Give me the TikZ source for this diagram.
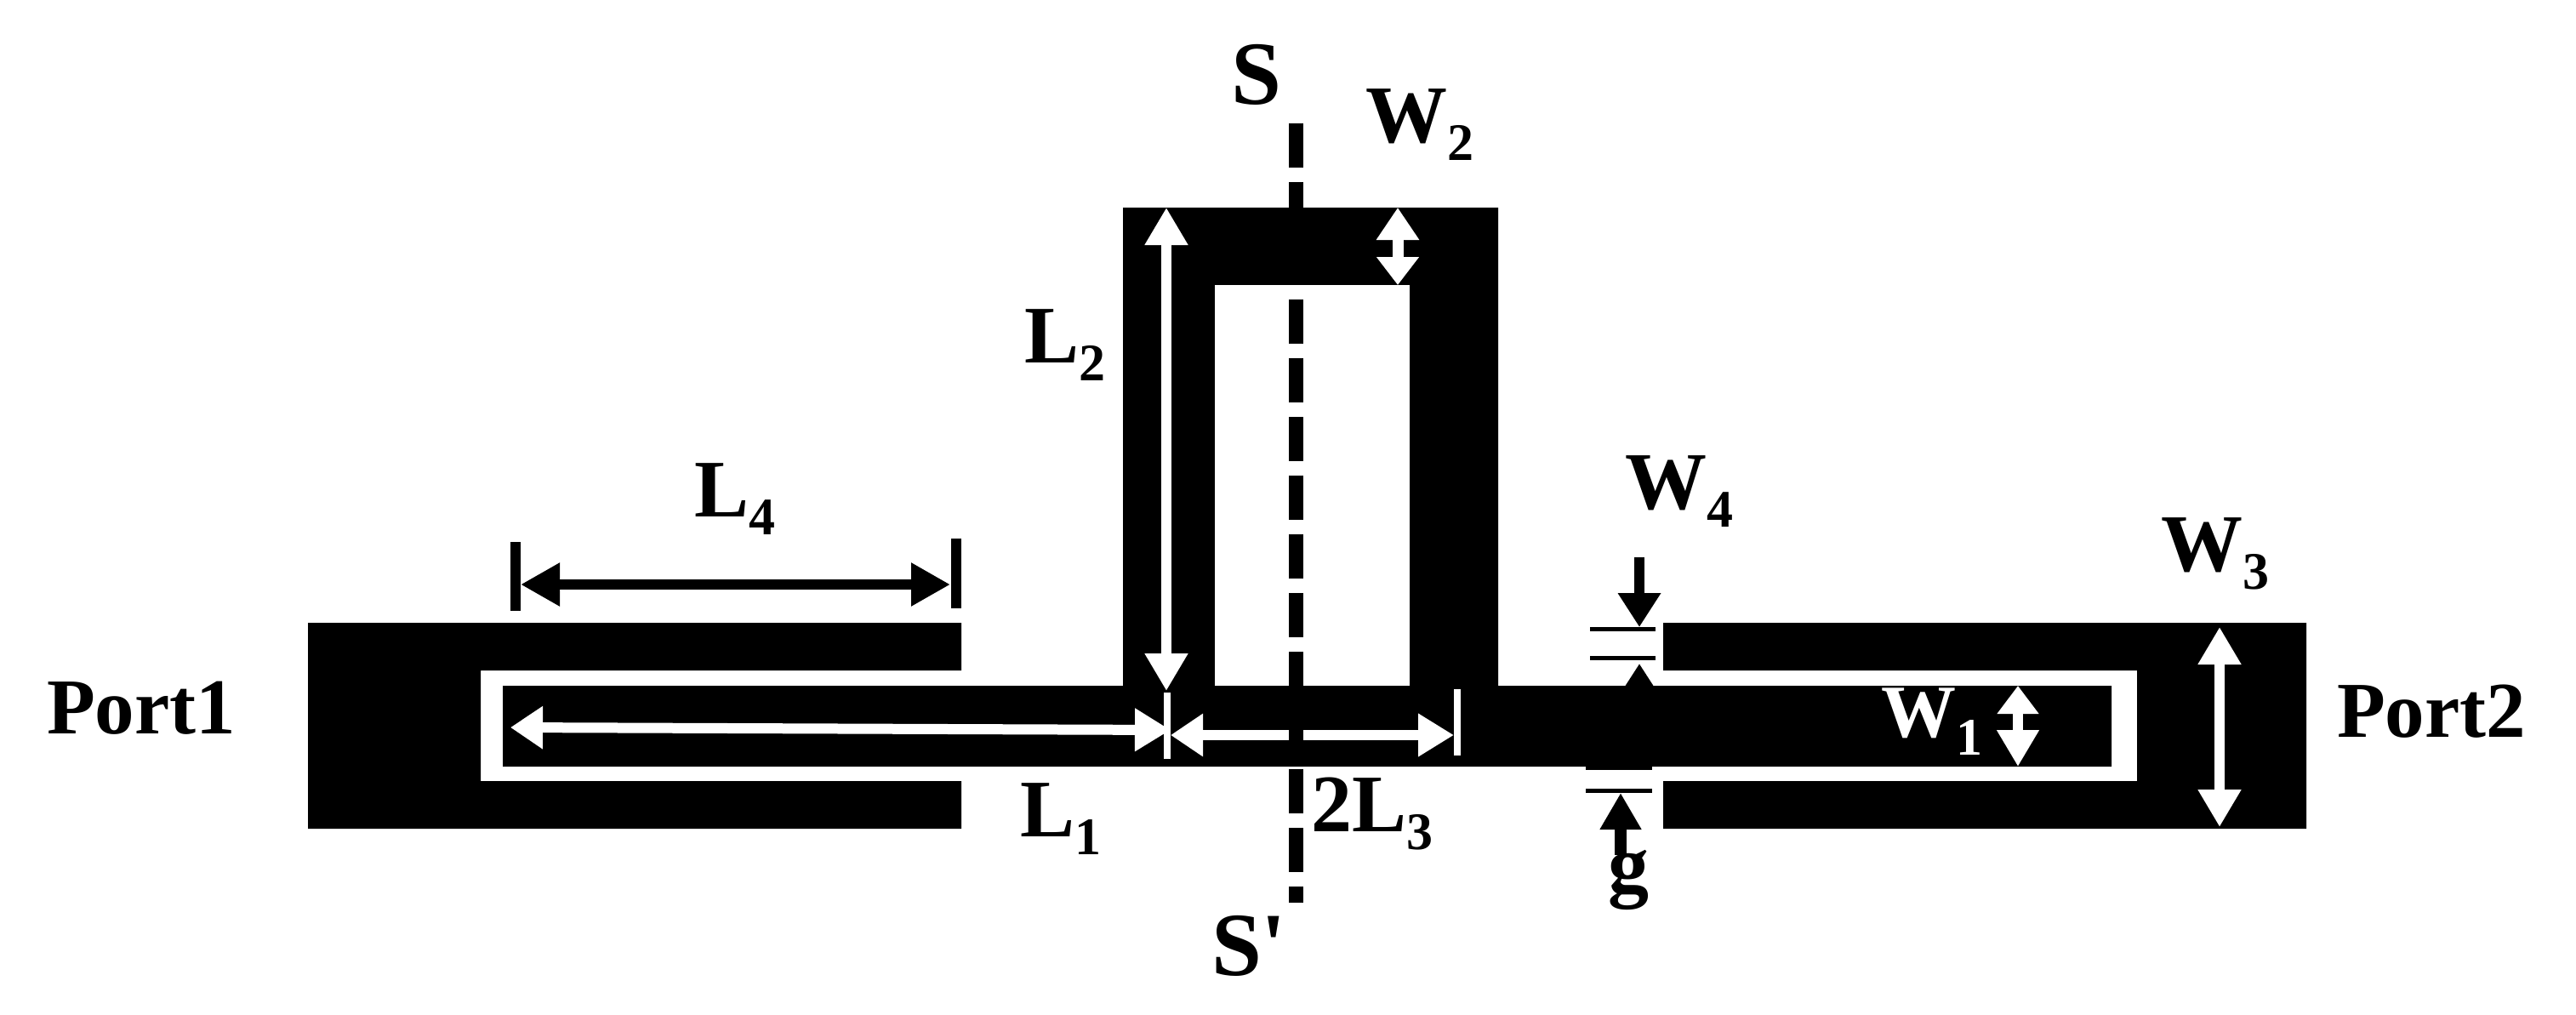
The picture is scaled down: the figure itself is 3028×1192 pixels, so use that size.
\documentclass[tikz,border=0pt]{standalone}
\usepackage{fontspec}
\setmainfont{Liberation Serif}
\newfontfamily\rawserif{Liberation Serif}
\usetikzlibrary{arrows.meta}
\newcommand{\subdig}[1]{\raisebox{-21pt}{\fontsize{62}{62}\bfseries\selectfont #1}}
\tikzset{
  x=1pt,y=-1pt,
  metal/.style={fill=black,draw=none},
  lbl/.style={anchor=base west,inner sep=0pt,outer sep=0pt,font=\fontsize{96}{96}\bfseries\selectfont,text=black},
  lblbig/.style={lbl,font=\fontsize{106}{106}\bfseries\selectfont},
  lblport/.style={lbl,font=\fontsize{93}{93}\bfseries\selectfont},
  lblsmall/.style={lbl,font=\fontsize{88}{88}\bfseries\selectfont},
  dimk/.style={line width=12pt,black,{Triangle[length=46pt,width=48pt]}-{Triangle[length=46pt,width=48pt]}},
  dimw/.style={line width=12pt,white,{Triangle[length=44pt,width=48pt]}-{Triangle[length=44pt,width=48pt]}},
  dimwshort/.style={line width=12pt,white,{Triangle[length=38pt,width=48pt]}-{Triangle[length=42pt,width=48pt]}},
  onek/.style={line width=12pt,black,-{Triangle[length=40pt,width=48pt]}},
  tick/.style={line width=8pt,white},
  tickk/.style={line width=5pt,black},
  sym/.style={line width=17pt,black,dash pattern=on 52pt off 17pt},
}
\begin{document}
\begin{tikzpicture}
\useasboundingbox (0,0) rectangle (3028,1192);
\fill[white] (0,0) rectangle (3028,1192);
% metal
\fill[metal] (362,732) -- (1130,732) -- (1130,788) -- (565,788) -- (565,918) -- (1130,918) -- (1130,974) -- (362,974) -- cycle;
\fill[metal] (1955,732) -- (2711,732) -- (2711,974) -- (1955,974) -- (1955,918) -- (2512,918) -- (2512,788) -- (1955,788) -- cycle;
\fill[metal] (591,806) -- (1320,806) -- (1320,244) -- (1761,244) -- (1761,806) -- (2482,806) -- (2482,901) -- (591,901) -- cycle;
\fill[white] (1428,335) rectangle (1657,806);
% named points
\coordinate (symT) at (1523.5,145);
\coordinate (symB) at (1523.5,1061);
\coordinate (L4a) at (612,687); \coordinate (L4b) at (1117,687);
\coordinate (L1a) at (600,855); \coordinate (L1b) at (1376,858);
\coordinate (L2a) at (1371,244); \coordinate (L2b) at (1371,812);
\coordinate (L3a) at (1376,864); \coordinate (L3b) at (1709,864);
\coordinate (W2a) at (1643,244); \coordinate (W2b) at (1643,335);
\coordinate (W1a) at (2372,806); \coordinate (W1b) at (2372,901);
\coordinate (W3a) at (2609,737); \coordinate (W3b) at (2609,972);
\coordinate (W4a) at (1927,655); \coordinate (W4b) at (1927,737);
\coordinate (W4c) at (1927,860); \coordinate (W4d) at (1927,780);
\coordinate (ga) at (1905,1005); \coordinate (gb) at (1905,932);
% dimension lines
\draw[dimk] (L4a) -- (L4b);
\draw[line width=12pt,black] (606,637) -- (606,718);
\draw[line width=12pt,black] (1123.5,633) -- (1123.5,715);
\draw[dimwshort] (L1a) -- (L1b);
\draw[dimw] (L2a) -- (L2b);
\draw[dimwshort] (L3a) -- (L3b);
\draw[tick] (1372,814) -- (1372,892);
\draw[tick] (1713,810) -- (1713,888);
\draw[line width=13pt,white,{Triangle[length=38pt,width=48pt]}-{Triangle[length=33pt,width=48pt]}] (W2a) -- (W2b);
\draw[line width=12pt,white,{Triangle[length=33pt,width=47pt]}-{Triangle[length=43pt,width=47pt]}] (W1a) -- (W1b);
\draw[dimw] (W3a) -- (W3b);
\draw[onek] (W4a) -- (W4b);
\draw[onek] (W4c) -- (W4d);
\draw[line width=14pt,black,-{Triangle[length=43pt,width=46pt]}] (ga) -- (gb);
\draw[tickk] (1869,739) -- (1946,739);
\draw[tickk] (1869,773.5) -- (1946,773.5);
\draw[tickk] (1864,902.5) -- (1942,902.5);
\draw[tickk] (1864,929) -- (1942,929);
% symmetry line
\draw[sym] (symT) -- (symB);
% labels
\node[lblbig] (S) at (1447,122) {S};
\node[lblbig] (Sp) at (1424,1146) {\rawserif\bfseries S'};
\node[lbl] (W2) at (1605,167) {W\subdig{2}};
\node[lbl] (L2) at (1204,426) {L\subdig{2}};
\node[lbl] (L4) at (816,607) {L\subdig{4}};
\node[lbl] (L1) at (1199,983) {L\subdig{1}};
\node[lbl] (L3) at (1541,977) {2L\subdig{3}};
\node[lbl] (g) at (1890,1048) {g};
\node[lbl] (W4) at (1910,598) {W\subdig{4}};
\node[lbl] (W3) at (2540,671) {W\subdig{3}};
\node[lblsmall,text=white] (W1) at (2211,866) {W\subdig{1}};
\node[lblport] (P1) at (55,862) {Port1};
\node[lblport] (P2) at (2747,866) {Port2};
\end{tikzpicture}
\end{document}
